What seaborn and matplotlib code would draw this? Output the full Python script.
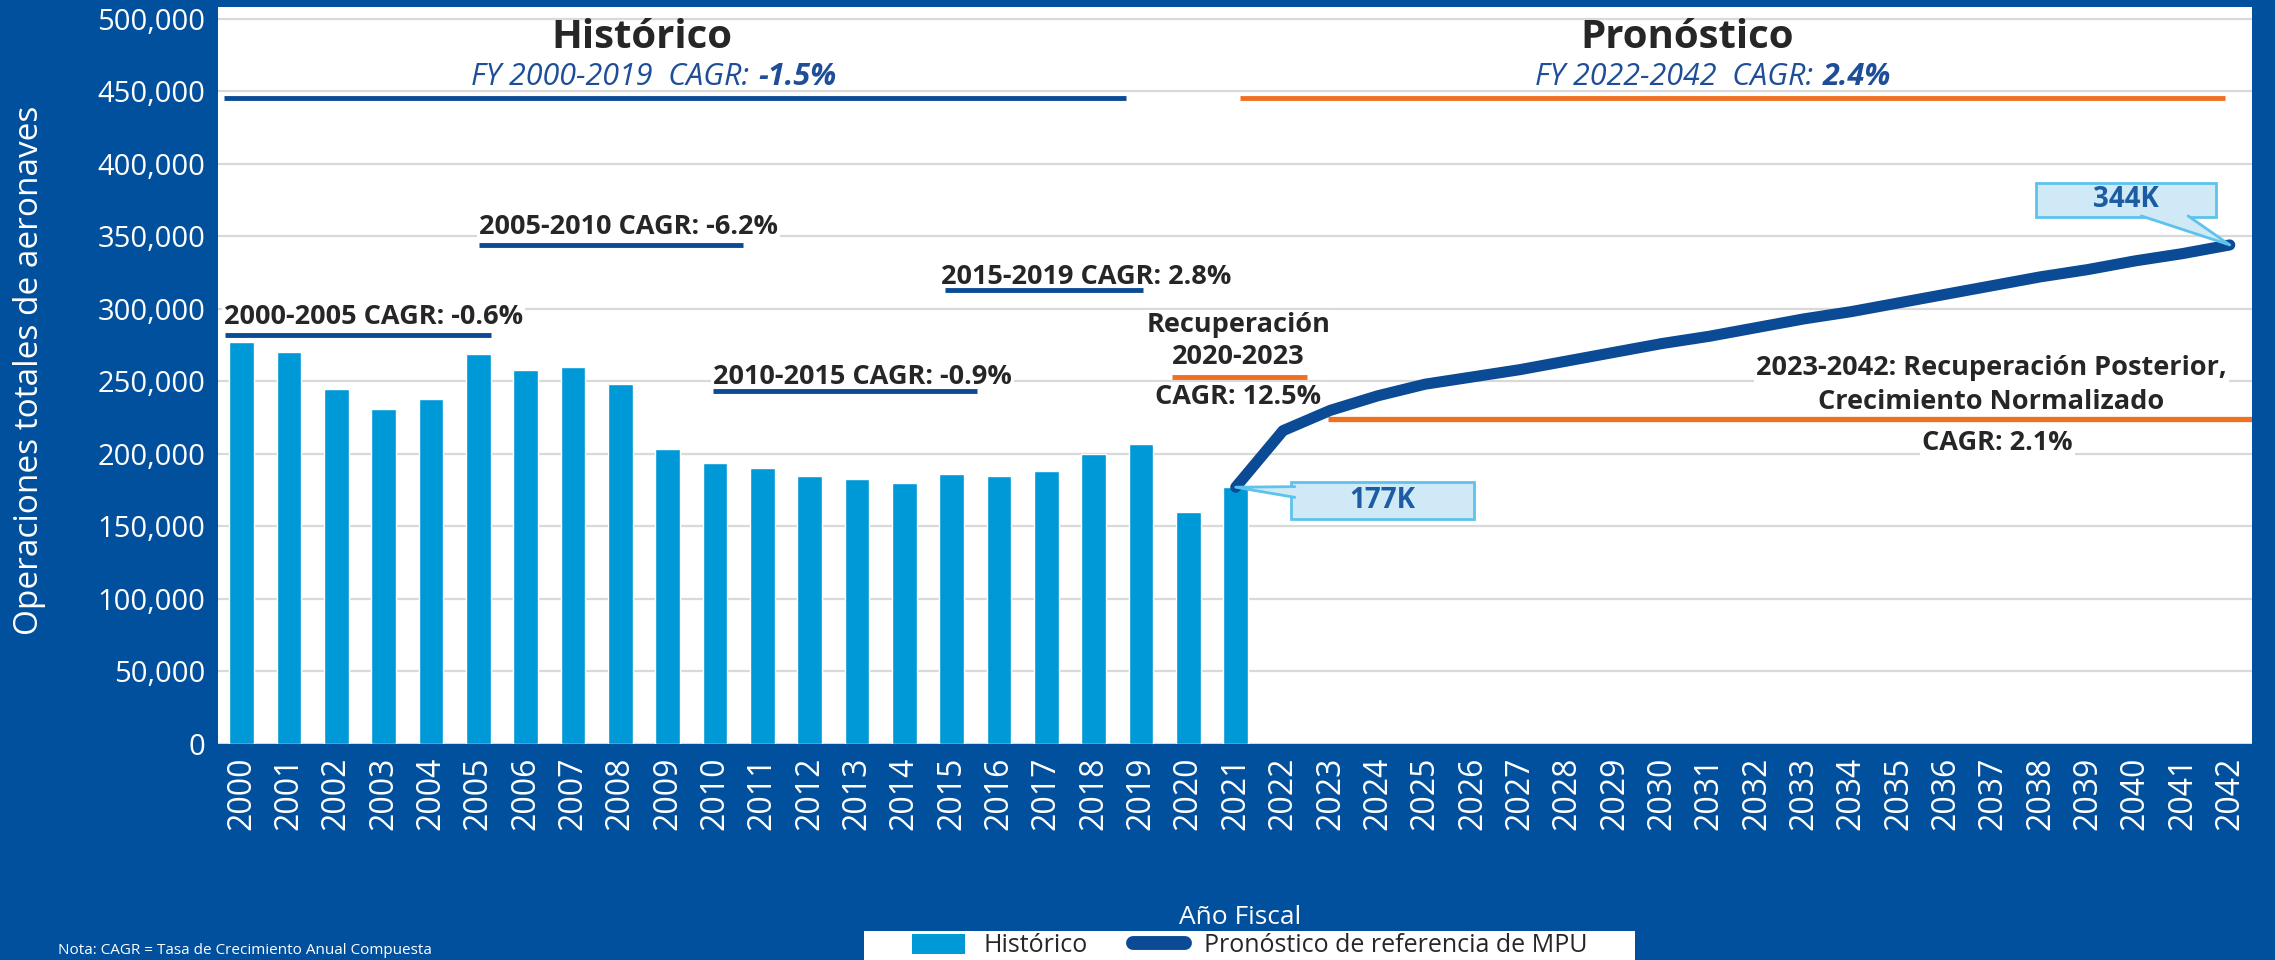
import numpy as np
import pandas as pd
import matplotlib
matplotlib.use("Agg")
import matplotlib.pyplot as plt
import seaborn as sns
from matplotlib.patches import Patch, Polygon, Rectangle
from matplotlib.lines import Line2D
from matplotlib.offsetbox import TextArea, HPacker, AnnotationBbox
from matplotlib.ticker import FuncFormatter

# ---------------- data ----------------
years = list(range(2000, 2043))
hist_years = list(range(2000, 2022))
hist_ops = [277000, 270000, 245000, 231000, 238000, 269000, 258000, 260000,
            248000, 203000, 194000, 190000, 185000, 183000, 180000, 186000,
            185000, 188000, 200000, 207000, 160000, 177000]
fc_years = list(range(2021, 2043))
fc_ops = [177000, 216000, 230000, 240000, 248000, 253000, 258000, 264000,
          270000, 276000, 281000, 287000, 293000, 298000, 304000, 310000,
          316000, 322000, 327000, 333000, 338000, 344000]
yticks = list(range(0, 500001, 50000))

# ---------------- style ----------------
sns.set_style("white")
plt.rcParams['font.family'] = ['Open Sans', 'DejaVu Sans']

BG = "#01509D"
BAR = "#0099D8"
LINE = "#0B4A94"
ORANGE = "#F07022"
DARK = "#262626"
TXTBLUE = "#1F4E98"
CALL_FILL = "#CFE9F7"
CALL_EDGE = "#5DC2EC"
GRID = "#D9D9D9"
ANN = 19.5

W, H = 2275, 960
fig = plt.figure(figsize=(W / 100, H / 100), dpi=100, facecolor=BG)
ax = fig.add_axes([218 / W, 1 - 744 / H, (2252 - 218) / W, (744 - 7) / H])
ax.set_facecolor("white")

order = [str(y) for y in years]
hist_df = pd.DataFrame({"Año": [str(y) for y in hist_years], "Operaciones": hist_ops})
sns.barplot(data=hist_df, x="Año", y="Operaciones", order=order, color=BAR,
            width=0.52, saturation=1, errorbar=None, ax=ax, zorder=2)

fc_df = pd.DataFrame({"pos": [years.index(y) for y in fc_years], "Operaciones": fc_ops})
sns.lineplot(data=fc_df, x="pos", y="Operaciones", color=LINE, lw=8, ax=ax,
             zorder=5, solid_capstyle='round', solid_joinstyle='round')

ax.set_xticks(range(len(years)))
ax.set_xticklabels(order)
ax.set_xlim(-0.5, 42.47)
ax.set_ylim(0, 508000)
ax.set_yticks(yticks)
ax.yaxis.set_major_formatter(FuncFormatter(lambda v, p: f"{int(v):,}"))
ax.set_xlabel("")
ax.set_ylabel("")
ax.yaxis.grid(True, color=GRID, lw=1.6)
ax.xaxis.grid(False)
ax.set_axisbelow(True)
for s in ax.spines.values():
    s.set_visible(False)
ax.tick_params(axis='y', length=0, pad=9, labelsize=21, labelcolor='white')
ax.tick_params(axis='x', length=0, pad=9, labelsize=23, labelcolor='white',
               labelrotation=90)

# ---------------- headers ----------------
ax.text(8.46, 487000, "Histórico", fontsize=29, weight='bold', color=DARK,
        ha='center', va='center', zorder=4)
ax.text(30.53, 487000, "Pronóstico", fontsize=29, weight='bold', color=DARK,
        ha='center', va='center', zorder=4)


def two_part(x, y, normal, bold):
    ta1 = TextArea(normal, textprops=dict(color=TXTBLUE, fontsize=22, style='italic'))
    ta2 = TextArea(bold, textprops=dict(color=TXTBLUE, fontsize=22, style='italic',
                                        weight='bold'))
    pk = HPacker(children=[ta1, ta2], align='baseline', pad=0, sep=7)
    ab = AnnotationBbox(pk, (x, y), xycoords='data', frameon=False,
                        box_alignment=(0.5, 0.5), pad=0, zorder=4)
    ax.add_artist(ab)


two_part(8.71, 460000, "FY 2000-2019  CAGR:", "-1.5%")
two_part(31.08, 460000, "FY 2022-2042  CAGR:", "2.4%")

ax.plot([-0.38, 18.69], [445000, 445000], color=LINE, lw=3.5, zorder=4,
        solid_capstyle='butt')
ax.plot([21.1, 41.9], [445500, 445500], color=ORANGE, lw=3.5, zorder=4,
        solid_capstyle='butt')

# ---------------- period annotations ----------------
TB = dict(fc='white', ec='none', pad=1.5)
segs = [
    ("2000-2005 CAGR: -0.6%", -0.38, 294000, -0.36, 5.26, 282000),
    ("2005-2010 CAGR: -6.2%", 5.01, 356600, 5.01, 10.6, 344000),
    ("2010-2015 CAGR: -0.9%", 9.96, 253000, 9.96, 15.54, 243000),
    ("2015-2019 CAGR: 2.8%", 14.78, 322000, 14.86, 19.05, 313000),
]
for label, tx, ty, x0, x1, ly in segs:
    ax.text(tx, ty, label, fontsize=ANN, weight='bold', color=DARK, ha='left',
            va='center', bbox=TB, zorder=3)
    ax.plot([x0, x1], [ly, ly], color=LINE, lw=3.5, zorder=4, solid_capstyle='butt')

ax.text(21.06, 289000, "Recuperación", fontsize=ANN, weight='bold', color=DARK,
        ha='center', va='center', bbox=TB, zorder=3)
ax.text(21.06, 267000, "2020-2023", fontsize=ANN, weight='bold', color=DARK,
        ha='center', va='center', bbox=TB, zorder=3)
ax.plot([19.66, 22.5], [253000, 253000], color=ORANGE, lw=3.5, zorder=4,
        solid_capstyle='butt')
ax.text(21.06, 239000, "CAGR: 12.5%", fontsize=ANN, weight='bold', color=DARK,
        ha='center', va='center', bbox=TB, zorder=3)

ax.text(36.96, 259000, "2023-2042: Recuperación Posterior,", fontsize=ANN,
        weight='bold', color=DARK, ha='center', va='center', bbox=TB, zorder=3)
ax.text(36.96, 236000, "Crecimiento Normalizado", fontsize=ANN, weight='bold',
        color=DARK, ha='center', va='center', bbox=TB, zorder=3)
ax.plot([22.96, 42.47], [224000, 224000], color=ORANGE, lw=3.8, zorder=4,
        solid_capstyle='butt')
ax.text(37.1, 207600, "CAGR: 2.1%", fontsize=ANN, weight='bold', color=DARK,
        ha='center', va='center', bbox=TB, zorder=3)


# ---------------- callouts ----------------
def callout(label, cx, cy, w, h, tip, b0, b1):
    rect = Rectangle((cx - w / 2, cy - h / 2), w, h, fc=CALL_FILL, ec=CALL_EDGE,
                     lw=2, zorder=6)
    ax.add_patch(rect)
    poly = Polygon([b0, tip, b1], closed=True, fc=CALL_FILL, ec='none', zorder=7)
    ax.add_patch(poly)
    ax.plot([b0[0], tip[0], b1[0]], [b0[1], tip[1], b1[1]], color=CALL_EDGE,
            lw=2, zorder=7)
    ax.text(cx, cy, label, fontsize=20, weight='bold', color="#1C5CA3",
            ha='center', va='center', zorder=8)


tip_a = (years.index(hist_years[-1]), hist_ops[-1])
callout(f"{round(hist_ops[-1] / 1000)}K", 24.1, 168000, 3.85, 25500, tip_a,
        (22.25, 177400), (22.25, 170000))
tip_b = (years.index(fc_years[-1]), fc_ops[-1])
callout(f"{round(fc_ops[-1] / 1000)}K", 39.8, 375000, 3.8, 24000, tip_b,
        (40.13, 364000), (41.12, 364000))

# ---------------- figure texts ----------------
fig.text(30 / W, 1 - 370 / H, "Operaciones totales de aeronaves", rotation=90,
         color='white', fontsize=24, ha='center', va='center')
fig.text(1240 / W, 1 - 917 / H, "Año Fiscal", color='white', fontsize=19,
         ha='center', va='center')
fig.text(58 / W, 1 - 951 / H, "Nota: CAGR = Tasa de Crecimiento Anual Compuesta",
         color='white', fontsize=11, ha='left', va='center')

# legend: white panel + frameless legend inside
fig.patches.append(Rectangle((864 / W, 0), (1635 - 864) / W, 1 - 931 / H,
                             transform=fig.transFigure, fc='white', ec='none',
                             zorder=1))
handles = [Patch(fc=BAR, ec='none', label='Histórico'),
           Line2D([], [], color=LINE, lw=10, solid_capstyle='round',
                  label='Pronóstico de referencia de MPU')]
fig.legend(handles=handles, loc='center', bbox_to_anchor=(1250 / W, 1 - 946 / H),
           ncol=2, frameon=False, fontsize=18, handlelength=2.1,
           handleheight=0.9, handletextpad=0.75, columnspacing=1.8,
           borderpad=0.0, labelcolor=DARK)

fig.savefig("out.png", dpi=100, facecolor=BG)
